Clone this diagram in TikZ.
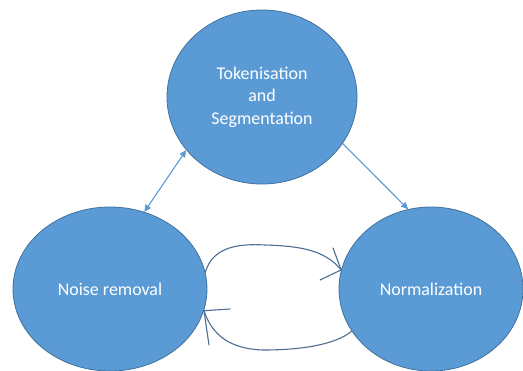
\documentclass[tikz,border=0pt]{standalone}
\usepackage{fontspec}
\setmainfont{Carlito}
\usetikzlibrary{shapes.geometric,arrows.meta}
\definecolor{stageblue}{HTML}{5B9BD5}
\definecolor{stageedge}{HTML}{41719C}
\definecolor{penline}{HTML}{4D6E92}

\begin{document}
\begin{tikzpicture}[x=1bp,y=-1bp,
  stage/.style={ellipse, draw=stageedge, fill=stageblue, line width=0.8bp, inner sep=0pt,
    text=white, align=center, font=\fontsize{18}{22.5}\selectfont},
  flow/.style={draw=stageblue, line width=1.1bp, -{Triangle[length=7bp,width=6.5bp]}},
  pen/.style={draw=penline, line width=1.1bp, line cap=round, line join=round}]
  % Page size and white background
  \useasboundingbox (0,0) rectangle (523,370);
  \clip (0,0) rectangle (523,370);
  \fill[white] (0,0) rectangle (523,370);

  % The three stages
  \node[stage, minimum width=190bp, minimum height=174bp] (token) at (262,97) {Tokenisation\\and\\Segmentation};
  \node[stage, minimum width=194bp, minimum height=164bp] (noise) at (110,289) {Noise removal};
  \node[stage, minimum width=184bp, minimum height=164bp] (norm) at (431,289) {Normalization};

  % Straight arrows
  \draw[flow, {Triangle[length=7bp,width=6.5bp]}-{Triangle[length=7bp,width=6.5bp]}] (noise.66) -- (token.215);
  \draw[flow] (token.-30) -- (norm.106);

  % Hand drawn loop between noise removal and normalization
  \coordinate (tipA) at (norm.168);
  \coordinate (tipB) at (noise.-13);
  \draw[pen] (noise.10) .. controls (212,250) and (232,243) .. (265,245)
    .. controls (300,246) and (325,250) .. (tipA);
  \coordinate (barbA1) at (333,248);
  \coordinate (barbA2) at (320,280);
  \draw[pen] (barbA1) -- (tipA) -- (barbA2);
  \draw[pen] (norm.208) .. controls (335,345) and (300,350) .. (263,350)
    .. controls (230,349) and (212,335) .. (tipB);
  \coordinate (barbB1) at (230,309);
  \coordinate (barbB2) at (209,345);
  \draw[pen] (barbB1) -- (tipB) -- (barbB2);
\end{tikzpicture}
\end{document}
